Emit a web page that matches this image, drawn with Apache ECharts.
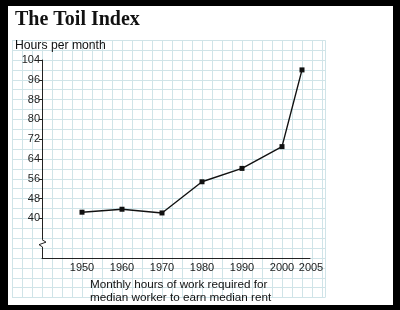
<!DOCTYPE html>
<html><head><meta charset="utf-8">
<script src="https://cdn.jsdelivr.net/npm/echarts@6/dist/echarts.min.js"></script>
<style>
html,body{margin:0;padding:0;background:#000;}
#wrap{position:relative;width:400px;height:310px;background:#000;}
#paper{position:absolute;left:8px;top:6px;width:385px;height:299px;background:#fff;}
#chart{position:absolute;left:0;top:0;width:400px;height:310px;}
</style></head>
<body><div id="wrap"><div id="paper"></div><div id="chart"></div></div>
<script>
const titleText = 'The Toil Index';
const yAxisTitle = 'Hours per month';
const noteLines = ['Monthly hours of work required for', 'median worker to earn median rent'];
const years = [1950, 1960, 1970, 1980, 1990, 2000, 2005];
const hours = [42.5, 43.7, 42.2, 54.8, 60.2, 69.0, 100.0];
const xLabelYears = [1950, 1960, 1970, 1980, 1990, 2000, 2005];
const yTickValues = [40, 48, 56, 64, 72, 80, 88, 96, 104];

const chart = echarts.init(document.getElementById('chart'), null, {renderer: 'canvas'});
const sans = 'Liberation Sans, Arial, sans-serif';
const gridColor = '#d0e4e8';
const lastYear = xLabelYears[xLabelYears.length - 1];

chart.setOption({
  animation: false,
  title: [
    {text: titleText, left: 15, top: 10, padding: 0,
     textStyle: {fontFamily: 'Liberation Serif, Times New Roman, serif', fontWeight: 'bold', fontSize: 20, color: '#111'}},
    {text: yAxisTitle, left: 15, top: 40, padding: 0,
     textStyle: {fontFamily: sans, fontWeight: 'normal', fontSize: 12.2, color: '#111'}},
    {text: noteLines.join('\n'), left: 90, top: 278, padding: 0,
     textStyle: {fontFamily: sans, fontWeight: 'normal', fontSize: 11.7, color: '#111', lineHeight: 13}}
  ],
  grid: [
    {left: 42, right: 90, top: 60, bottom: 52},
    {left: 12, right: 75, top: 40.2, bottom: 12.4}
  ],
  xAxis: [
    {type: 'value', gridIndex: 0, min: 1940, max: 2007,
     axisLine: {show: true, lineStyle: {color: '#222', width: 1}},
     axisTick: {show: false},
     splitLine: {show: false},
     axisLabel: {customValues: xLabelYears, hideOverlap: false, fontFamily: sans, fontSize: 11, color: '#222', margin: 4,
                 formatter: v => v === lastYear ? '{r|' + v + '}' : String(v),
                 rich: {r: {fontFamily: sans, fontSize: 11, color: '#222', padding: [0, 0, 0, 18]}}}},
    {type: 'value', gridIndex: 1, min: 1932.5, max: 2010.75, interval: 2.5,
     axisLine: {show: false}, axisTick: {show: false}, axisLabel: {show: false},
     splitLine: {show: true, lineStyle: {color: gridColor, width: 1}}}
  ],
  yAxis: [
    {type: 'value', gridIndex: 0, min: 24, max: 104, interval: 8,
     axisLine: {show: true, lineStyle: {color: '#222', width: 1}},
     axisTick: {show: true, length: 3, lineStyle: {color: '#222'}, customValues: yTickValues},
     splitLine: {show: false},
     axisLabel: {customValues: yTickValues, fontFamily: sans, fontSize: 11, color: '#222', margin: 2}},
    {type: 'value', gridIndex: 1, min: 8, max: 112, interval: 4,
     axisLine: {show: false}, axisTick: {show: false}, axisLabel: {show: false},
     splitLine: {show: true, lineStyle: {color: gridColor, width: 1}}}
  ],
  series: [{
    type: 'line', xAxisIndex: 0, yAxisIndex: 0,
    data: years.map((y, i) => [y, hours[i]]),
    symbol: 'rect', symbolSize: 5,
    lineStyle: {color: '#111', width: 1.4},
    itemStyle: {color: '#111'},
    z: 5
  }]
});

// axis break decoration on the y axis
const p = chart.convertToPixel({gridIndex: 0}, [1940, 30]);
const x0 = p[0], y0 = p[1];
chart.setOption({
  graphic: [
    {type: 'rect', shape: {x: x0 - 2, y: y0 - 3.5, width: 4, height: 7}, style: {fill: '#fff'}, z: 10},
    {type: 'polyline', shape: {points: [[x0, y0 - 3.5], [x0 + 4, y0 - 1], [x0 - 3, y0 + 1.5], [x0, y0 + 3.5]]},
     style: {stroke: '#222', lineWidth: 1, fill: null}, z: 11}
  ]
});
</script></body></html>
